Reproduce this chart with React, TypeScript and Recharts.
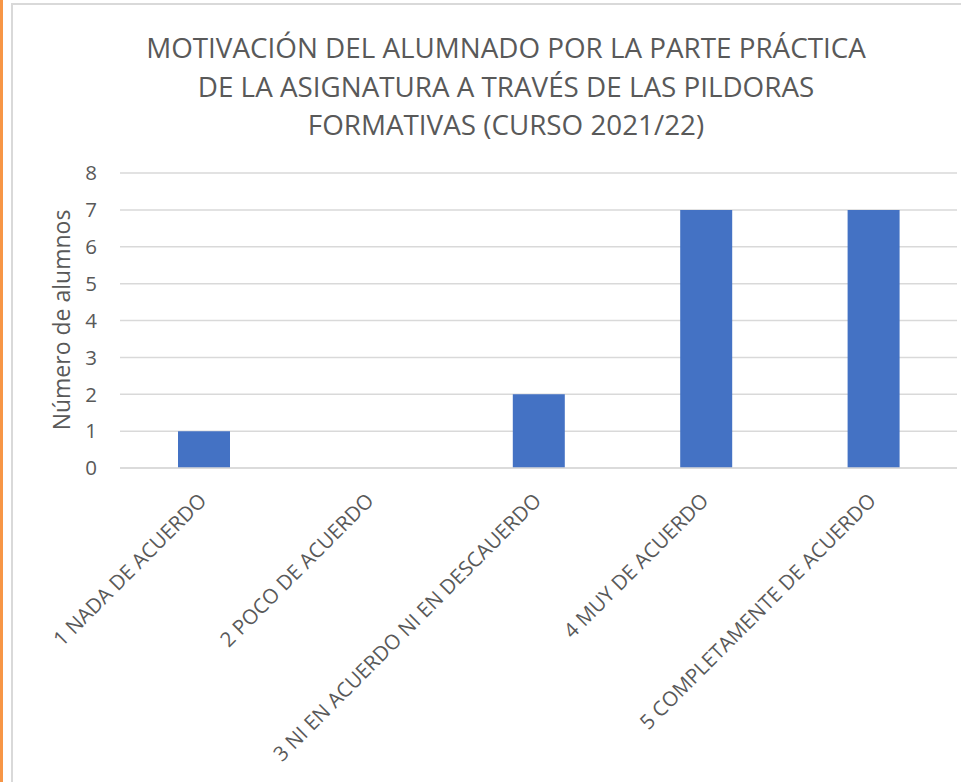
import React from 'react';
import { BarChart, Bar, XAxis, YAxis, CartesianGrid } from 'recharts';

const categories = [
  '1 NADA DE ACUERDO',
  '2 POCO DE ACUERDO',
  '3 NI EN ACUERDO NI EN DESCAUERDO',
  '4 MUY DE ACUERDO',
  '5 COMPLETAMENTE DE ACUERDO',
];
const values = [1, 0, 2, 7, 7];
const yTicks = [0, 1, 2, 3, 4, 5, 6, 7, 8];
const titleLines = [
  'MOTIVACIÓN DEL ALUMNADO POR LA PARTE PRÁCTICA',
  'DE LA ASIGNATURA A TRAVÉS DE LAS PILDORAS',
  'FORMATIVAS (CURSO 2021/22)',
];
const yAxisTitle = 'Número de alumnos';

const data = categories.map((c, i) => ({ name: c, value: values[i] }));

const FONT = "'Open Sans', 'Noto Sans', sans-serif";
const TEXT = '#595959';

const XTick = (props: any) => {
  const { x, y, payload } = props;
  return (
    <g transform={`translate(${x + 4},${y + 26})`}>
      <text
        x={0}
        y={0}
        textAnchor="end"
        transform="rotate(-45)"
        fontSize={20.5}
        fill={TEXT}
        fontFamily={FONT}
      >
        {payload.value}
      </text>
    </g>
  );
};

export default function App() {
  return (
    <div style={{ position: 'fixed', left: 0, top: 0, width: 961, height: 782, background: '#fff', overflow: 'hidden' }}>
      <div style={{ position: 'absolute', left: 0, top: 0, width: 3, height: 782, background: '#F79646' }} />
      <div
        style={{
          position: 'absolute',
          left: 11,
          top: 3,
          width: 961,
          height: 800,
          borderLeft: '2px solid #d9d9d9',
          borderTop: '2px solid #d9d9d9',
        }}
      />
      <div style={{ position: 'absolute', left: 0, top: 0 }}>
        <BarChart
          width={961}
          height={782}
          data={data}
          margin={{ top: 173, right: 4, bottom: 0, left: 0 }}
          barSize={52}
        >
          <CartesianGrid vertical={false} stroke="#d9d9d9" strokeWidth={1.5} />
          <XAxis
            dataKey="name"
            height={314}
            interval={0}
            tickLine={false}
            axisLine={{ stroke: '#d9d9d9', strokeWidth: 1.5 }}
            tick={<XTick />}
          />
          <YAxis
            width={120}
            domain={[0, 8]}
            ticks={yTicks}
            interval={0}
            tickLine={false}
            axisLine={false}
            tickSize={6}
            tickMargin={17}
            tick={{ fill: TEXT, fontSize: 20.5, fontFamily: FONT }}
          />
          <Bar dataKey="value" fill="#4472C4" isAnimationActive={false} />
        </BarChart>
      </div>
      <svg
        width={961}
        height={782}
        style={{ position: 'absolute', left: 0, top: 0, pointerEvents: 'none' }}
      >
        {titleLines.map((t, i) => (
          <text
            key={i}
            x={506}
            y={58 + i * 38.5}
            textAnchor="middle"
            fontSize={27.8}
            fill={TEXT}
            fontFamily={FONT}
          >
            {t}
          </text>
        ))}
        <text
          transform="translate(70,320) rotate(-90)"
          textAnchor="middle"
          fontSize={23}
          fill={TEXT}
          fontFamily={FONT}
        >
          {yAxisTitle}
        </text>
      </svg>
    </div>
  );
}
